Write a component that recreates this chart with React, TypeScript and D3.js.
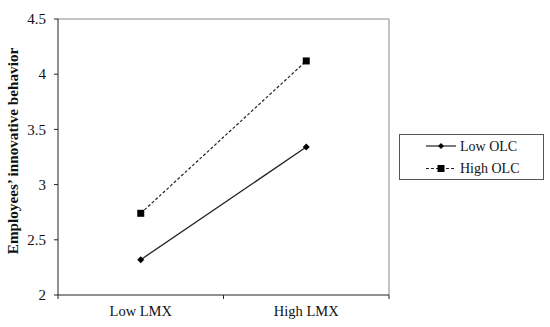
import React from "react";
import * as d3 from "d3";

const categories = ["Low LMX", "High LMX"];
const lowOLC = [2.32, 3.34];
const highOLC = [2.74, 4.12];
const yTicks = [2, 2.5, 3, 3.5, 4, 4.5];
const seriesNames = ["Low OLC", "High OLC"];

const W = 550, H = 327;
const left = 58, right = 389, top = 19, bottom = 295;

export default function App() {
  const x = d3.scaleBand<string>().domain(categories).range([left, right]).padding(0);
  const y = d3.scaleLinear().domain([2, 4.5]).range([bottom, top]);
  const line = d3.line<number>()
    .x((_, i) => (x(categories[i]) as number) + x.bandwidth() / 2)
    .y((d) => y(d));
  const font = "'Liberation Serif', 'Times New Roman', serif";
  const bounds = [left, ...categories.map((c) => (x(c) as number) + x.bandwidth())];
  return (
    <svg width={W} height={H} style={{ position: "absolute", left: 0, top: 0, background: "#fff" }}
      fontFamily={font}>
      <rect x={0} y={0} width={W} height={H} fill="#fff" />
      {/* plot border top/right */}
      <line x1={left} y1={top} x2={right} y2={top} stroke="#888" strokeWidth={1} />
      <line x1={right} y1={top} x2={right} y2={bottom} stroke="#888" strokeWidth={1} />
      {/* y axis */}
      <line x1={left} y1={top} x2={left} y2={bottom} stroke="#222" strokeWidth={1} />
      {yTicks.map((t) => (
        <g key={t}>
          <line x1={left - 4} x2={left} y1={y(t)} y2={y(t)} stroke="#222" />
          <text x={left - 12} y={y(t)} dy="0.35em" textAnchor="end" fontSize={15} fill="#111">{t}</text>
        </g>
      ))}
      {/* x axis */}
      <line x1={left} y1={bottom} x2={right} y2={bottom} stroke="#222" strokeWidth={1} />
      {bounds.map((b, i) => (
        <line key={i} x1={b} x2={b} y1={bottom} y2={bottom + 4} stroke="#222" />
      ))}
      {categories.map((c) => (
        <text key={c} x={(x(c) as number) + x.bandwidth() / 2} y={316} textAnchor="middle" fontSize={14.5} fill="#111">{c}</text>
      ))}
      <text transform={`translate(13,151) rotate(-90)`} textAnchor="middle" dy="0.35em"
        fontSize={15.2} fontWeight="bold" fill="#111">Employees’ innovative behavior</text>
      {/* series */}
      <path d={line(highOLC) as string} fill="none" stroke="#222" strokeWidth={1.2} strokeDasharray="3,2" />
      <path d={line(lowOLC) as string} fill="none" stroke="#222" strokeWidth={1.3} />
      {highOLC.map((v, i) => {
        const cx = (x(categories[i]) as number) + x.bandwidth() / 2;
        return <rect key={i} x={cx - 3.5} y={y(v) - 3.5} width={7} height={7} fill="#000" />;
      })}
      {lowOLC.map((v, i) => {
        const cx = (x(categories[i]) as number) + x.bandwidth() / 2;
        const cy = y(v);
        return <path key={i} d={`M${cx},${cy - 3.5}L${cx + 3.5},${cy}L${cx},${cy + 3.5}L${cx - 3.5},${cy}Z`} fill="#000" />;
      })}
      {/* legend */}
      <rect x={399.5} y={134.5} width={144} height={45} fill="#fff" stroke="#555" strokeWidth={1} />
      {seriesNames.map((n, i) => {
        const ly = 146 + i * 22.5;
        return (
          <g key={n}>
            <line x1={426} x2={456} y1={ly} y2={ly} stroke="#222" strokeWidth={1.2} strokeDasharray={i === 1 ? "3,2" : undefined} />
            {i === 0 ? (
              <path d={`M441,${ly - 3}L444,${ly}L441,${ly + 3}L438,${ly}Z`} fill="#000" />
            ) : (
              <rect x={437.5} y={ly - 3.5} width={7} height={7} fill="#000" />
            )}
            <text x={460} y={ly} dy="0.35em" fontSize={14} fill="#111">{n}</text>
          </g>
        );
      })}
    </svg>
  );
}
